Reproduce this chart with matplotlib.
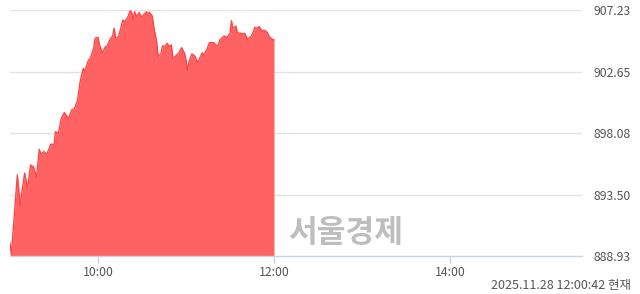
import matplotlib
matplotlib.use("Agg")
import matplotlib.pyplot as plt
import numpy as np

plt.rcParams['font.family'] = ['Noto Sans CJK KR', 'DejaVu Sans']

# minutes after 09:00
minutes = [
    0, 1, 5, 7, 8, 10, 12, 14, 16, 18, 20, 21, 23, 25, 28, 30, 31, 33, 35, 37,
    40, 42, 44, 46, 47, 48, 50, 51, 53, 55, 57, 58, 60, 61, 63, 65, 66, 68, 70,
    71, 72, 74, 77, 78, 80, 82, 83, 84, 85, 86, 88, 90, 91, 93, 94, 95, 97, 98,
    100, 101, 103, 104, 106, 107, 109, 110, 111, 113, 115, 117, 119, 120, 121,
    122, 124, 126, 128, 131, 132, 134, 136, 139, 141, 142, 143, 146, 148, 150,
    151, 152, 154, 155, 157, 159, 160, 162, 164, 165, 167, 168, 170, 172, 173,
    175, 177, 179, 180,
]
index_values = [
    889.90, 889.13, 894.96, 892.70, 893.60, 895.10, 893.96, 895.70, 895.57,
    894.78, 896.87, 896.50, 896.70, 896.50, 897.26, 897.20, 898.18, 898.06,
    899.17, 899.59, 899.17, 899.79, 899.90, 900.50, 901.28, 902.02, 902.89,
    902.64, 903.38, 903.71, 904.38, 905.12, 905.20, 904.63, 904.01, 904.50,
    904.50, 905.00, 905.30, 905.87, 905.12, 905.24, 906.49, 906.36, 906.61,
    907.18, 907.03, 906.49, 907.10, 906.73, 907.03, 906.69, 906.86, 907.10,
    906.93, 907.06, 906.78, 905.99, 904.87, 903.76, 904.01, 904.55, 904.55,
    904.75, 904.50, 904.63, 903.64, 903.81, 904.01, 904.43, 904.01, 903.51,
    902.71, 903.38, 903.96, 903.81, 903.31, 904.05, 903.88, 904.25, 904.80,
    904.80, 904.55, 904.60, 905.00, 905.30, 905.20, 905.50, 906.43, 905.87,
    906.04, 905.54, 905.50, 905.44, 905.50, 905.05, 905.24, 905.37, 905.94,
    905.87, 905.99, 905.62, 905.74, 905.62, 905.20, 905.05, 905.00,
]
y_ticks = [888.93, 893.50, 898.08, 902.65, 907.23]
x_ticks = [60, 180, 300]
x_labels = ["10:00", "12:00", "14:00"]
stamp = "2025.11.28 12:00:42 현재"
watermark = "서울경제"

fig = plt.figure(figsize=(6.4, 2.94), dpi=100)
ax = fig.add_axes([10 / 640, 1 - 256 / 294, 572 / 640, 246 / 294])

t = np.array(minutes)
v = np.array(index_values)
ax.fill_between(t, y_ticks[0], v, color="#ff6262", linewidth=0, zorder=2)
ax.plot(t, v, color="#ff4646", linewidth=1.0, zorder=3)

ax.set_xlim(0, 390)
ax.set_ylim(y_ticks[0], y_ticks[-1])

for val in y_ticks[1:]:
    ax.axhline(val, color="#e3e3e3", linewidth=1, zorder=1)

for side in ["top", "left", "right"]:
    ax.spines[side].set_visible(False)
ax.spines["bottom"].set_color("#c6d4ea")
ax.spines["bottom"].set_linewidth(1)

ax.set_xticks(x_ticks)
ax.set_xticklabels(x_labels)
ax.tick_params(axis="x", colors="#c6d4ea", length=5, width=1, pad=2,
               labelcolor="#555555", labelsize=8.8)

ax.yaxis.tick_right()
ax.set_yticks(y_ticks)
ax.set_yticklabels([f"{y:.2f}" for y in y_ticks])
ax.tick_params(axis="y", length=0, pad=35, labelcolor="#555555", labelsize=8.8)
for lbl in ax.get_yticklabels():
    lbl.set_horizontalalignment("right")

ax.text(0.586, 0.093, watermark, transform=ax.transAxes, ha="center",
        va="center", fontsize=22.5, fontweight="bold", color="#bebebe", zorder=4)

fig.text(631 / 640, 1 - 285 / 294, stamp, ha="right", va="center",
         fontsize=9, color="#555555")

fig.savefig("out.png", dpi=100)
